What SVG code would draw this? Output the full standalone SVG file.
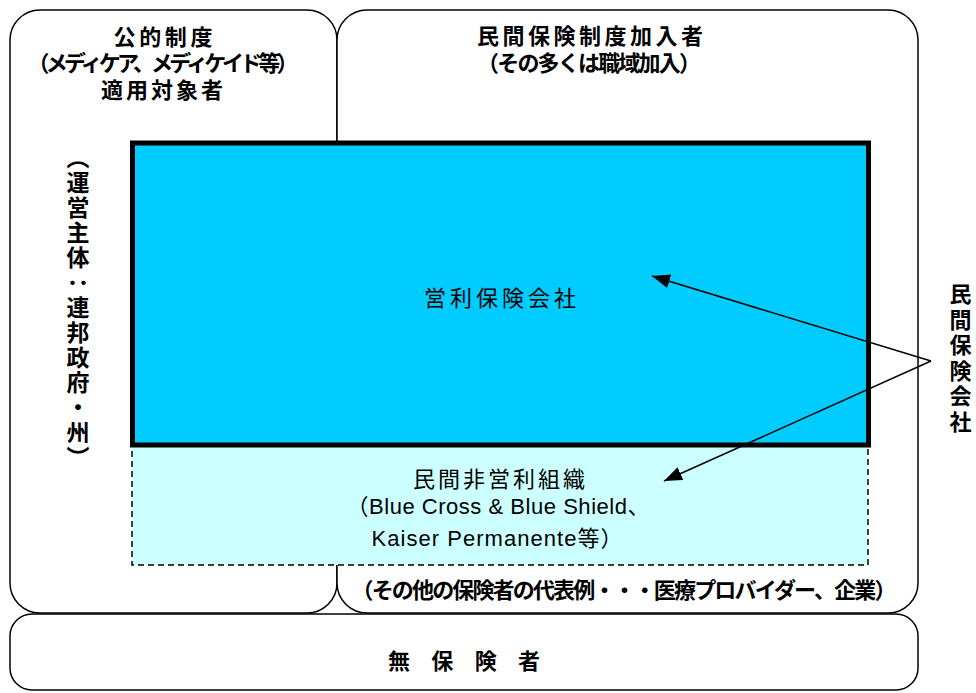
<svg xmlns="http://www.w3.org/2000/svg" width="976" height="693" viewBox="0 0 976 693">
<style>
.box{fill:#fff;stroke:#000;stroke-width:1.5}
.t{font-family:"Liberation Sans","Noto Sans CJK JP",sans-serif;font-size:22px;fill:#000;text-anchor:middle}
.b{font-weight:bold}
.v{writing-mode:vertical-rl;text-anchor:start}
.conn{stroke:#000;stroke-width:1.5;fill:none}
</style>
<defs>
<marker id="ah" markerUnits="userSpaceOnUse" markerWidth="20" markerHeight="16" refX="18" refY="7" orient="auto">
<path d="M0,0 L18,7 L0,14 z" fill="#000"/>
</marker>
</defs>
<rect width="976" height="693" fill="#fff"/>
<g id="public">
<rect class="box" x="10" y="10" width="327" height="603" rx="30"/>
<text class="t b" x="163" y="45" textLength="99">公的制度</text>
<text class="t b" x="163" y="71" textLength="271">（メディケア、メディケイド等）</text>
<text class="t b" x="162" y="98" textLength="122">適用対象者</text>
<text class="t b v" x="76" y="146" style="font-size:23px;letter-spacing:2px">（運営主体：連邦政府・州）</text>
</g>
<g id="private">
<rect class="box" x="337" y="10" width="581" height="603" rx="30"/>
<text class="t b" x="590" y="44" textLength="226">民間保険制度加入者</text>
<text class="t b" x="589" y="71" textLength="224">（その多くは職域加入）</text>
<text class="t b" x="624" y="598" textLength="545">（その他の保険者の代表例・・・医療プロバイダー、企業）</text>
</g>
<g id="nonprofit">
<rect x="132" y="445" width="736" height="120" fill="#CCFFFF" stroke="#000" stroke-width="1.5" stroke-dasharray="6,4"/>
<text class="t" x="499" y="487" textLength="172">民間非営利組織</text>
<text class="t" x="498" y="514" textLength="303">（Blue Cross &amp; Blue Shield、</text>
<text class="t" x="497" y="546" textLength="251">Kaiser Permanente等）</text>
</g>
<g id="forprofit">
<rect x="132.5" y="143" width="736" height="302" fill="#00CCFF" stroke="#000" stroke-width="5"/>
<text class="t" x="500" y="306" textLength="152">営利保険会社</text>
</g>
<g id="uninsured">
<rect class="box" x="10" y="614" width="908" height="76" rx="22"/>
<text class="t b" x="464" y="669" textLength="152">無 保 険 者</text>
</g>
<g id="label-private-insurers">
<text class="t b v" x="958" y="283" style="letter-spacing:3.5px">民間保険会社</text>
</g>
<g id="connectors">
<line class="conn" x1="931" y1="361" x2="652" y2="276" marker-end="url(#ah)"/>
<line class="conn" x1="931" y1="361" x2="664" y2="481" marker-end="url(#ah)"/>
</g>
</svg>
